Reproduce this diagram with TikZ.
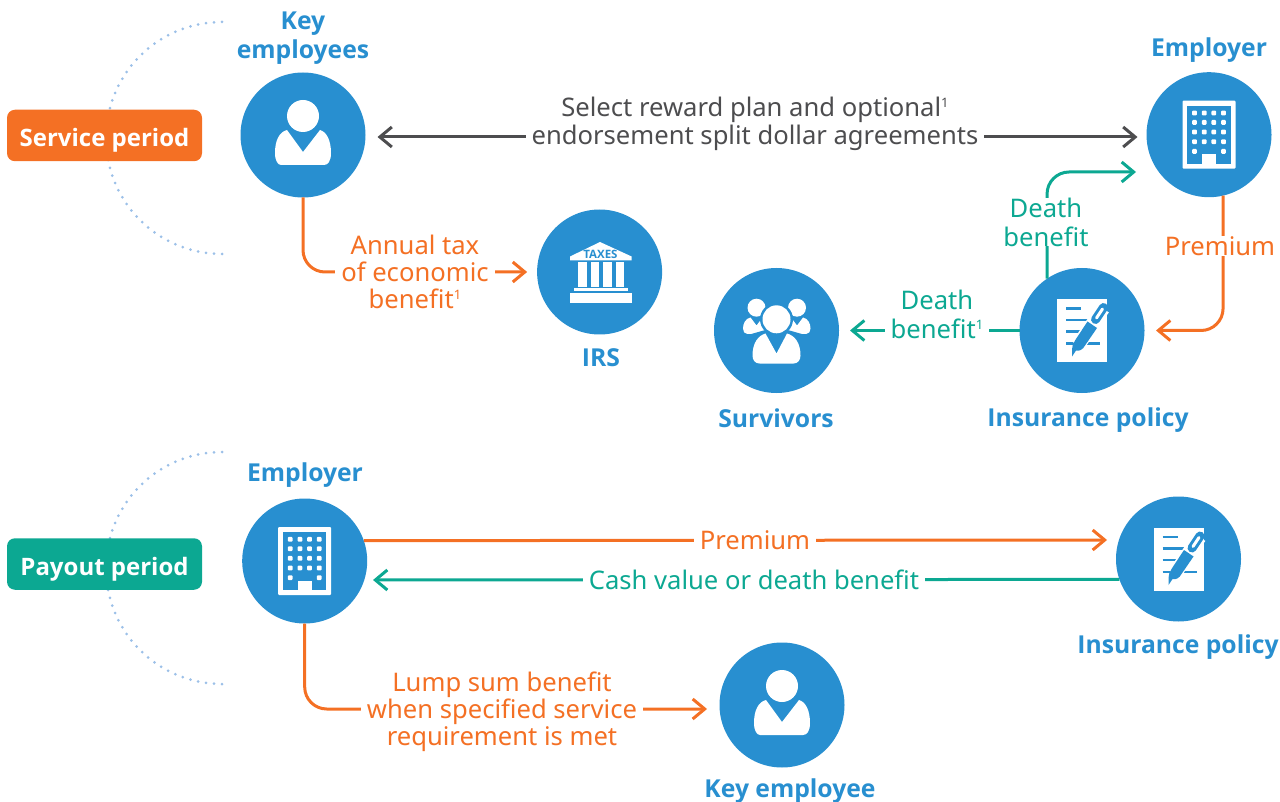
\documentclass[tikz,border=0pt]{standalone}
\usepackage{fontspec}
\setmainfont{Noto Sans}
\newfontfamily\bfam{Open Sans}
\usetikzlibrary{arrows.meta}
\definecolor{cblue}{HTML}{288FD0}
\definecolor{corange}{HTML}{F47024}
\definecolor{cteal}{HTML}{0CA892}
\definecolor{cdark}{HTML}{4D4D4F}
\definecolor{cdot}{HTML}{9CC0E8}
\newcommand{\supone}{\raisebox{9pt}{\fontsize{13}{13}\selectfont 1}}
\newcommand{\tagtext}[1]{\raisebox{-11pt}[0pt][0pt]{#1}}
\tikzset{
  x=1pt,y=-1pt,
  disc/.style={circle,fill=cblue,minimum size=125pt,inner sep=0pt,outer sep=0pt},
  title/.style={text=cblue,font=\bfam\fontsize{24.7}{28.5}\selectfont\bfseries,align=center,inner sep=0pt},
  lab/.style={font=\fontsize{25.6}{27}\selectfont,align=center,fill=white,inner xsep=6pt,inner ysep=0pt,outer sep=0pt},
  tag/.style={rounded corners=8pt,minimum width=195pt,minimum height=51.5pt,inner sep=0pt,text=white,font=\bfam\fontsize{24}{28}\selectfont\bfseries},
  conn/.style={line width=3pt,rounded corners=22pt,-{Straight Barb[length=12pt,width=20pt,line width=3pt]}},
  dots/.style={cdot,line width=3pt,line cap=round,dash pattern=on 0pt off 8pt},
}
\tikzset{
 personicon/.pic={
  \fill[white] (0,-19) circle[radius=16pt];
  \fill[white] (-16,-5) -- (0,17) -- (17,-5) .. controls (24,-3) and (28,6) .. (28,18) .. controls (28,26) and (25,30) .. (21,30) -- (-22,30) .. controls (-25,30) and (-28,26) .. (-28,18) .. controls (-28,6) and (-24,-3) .. (-16,-5) -- cycle;
 },
 buildingicon/.pic={
  \fill[white,rounded corners=1pt] (-26.5,-34) rectangle (26.5,34);
  \fill[cblue] (-21.7,-29) rectangle (21.7,29);
  \fill[white] (-7,19.5) rectangle (7,29);
  \foreach \r in {-21.7,-12.3,-2.7,7}{\foreach \c in {-14.5,-4.8,4.8,14.5}{\fill[white,rounded corners=1pt] (\c-2.4,\r-2.4) rectangle (\c+2.4,\r+2.4);}}
  \foreach \c in {-14.5,14.5}{\fill[white,rounded corners=1pt] (\c-2.4,16.7-2.4) rectangle (\c+2.4,16.7+2.4);}
 },
 policyicon/.pic={
  \fill[white] (-25,-31) rectangle (25,31.5);
  \foreach \yy/\xx in {-22/-1,-10.5/9,1/4,13/18}{\draw[cblue,line width=2.6pt] (-16,\yy) -- (\xx,\yy);}
  \draw[white,line width=14pt] (21,-22) -- (-4,15);
  \draw[cblue,line width=9pt,line cap=round] (21.5,-23) -- (13.5,-11);
  \draw[white,line width=3pt,line cap=round] (20.5,-21.5) -- (14.5,-12.5);
  \fill[cblue] (5.5,-9) -- (15,-2.5) -- (3,15) .. controls (1,19) and (-3,21) .. (-6,20) -- (-10,26) -- (-10,19) .. controls (-10,16) and (-9,13) .. (-7,10) -- cycle;
 },
 taxicon/.pic={
  \fill[white] (0.4,-30) -- (32,-15.5) -- (32,-11.5) -- (-29.6,-11.5) -- (-29.6,-15.5) -- cycle;
  \node[text=cblue,inner sep=0pt,font=\bfam\fontsize{11.5}{11.5}\selectfont\bfseries] at (0.8,-17.8) {TAXES};
  \foreach \c in {-21.3,-8.6,3.7,16}{\fill[white] (\c,-9.7) rectangle (\c+8.4,15.3);}
  \fill[white] (-25.3,16.3) rectangle (28.7,19);
  \fill[white] (-29.6,21) rectangle (32,31);
 },
 groupicon/.pic={
  \fill[white] (-20,-22.8) circle[radius=9pt];
  \fill[white] (20.5,-22.8) circle[radius=9pt];
  \fill[white] (-26,-13) -- (-20,-5) -- (-14,-13) -- (-8,3) -- (-25,3.5) -- (-29,3.5) .. controls (-32,3.5) and (-33.5,1) .. (-33.5,-2) .. controls (-33.5,-7) and (-31,-12) .. (-26,-13) -- cycle;
  \fill[white] (26.5,-13) -- (20.5,-5) -- (14.5,-13) -- (8,3) -- (25,3.5) -- (29.5,3.5) .. controls (32.5,3.5) and (34,1) .. (34,-2) .. controls (34,-7) and (31.5,-12) .. (26.5,-13) -- cycle;
  \fill[cblue] (0,-11.2) circle[radius=16.5pt];
  \fill[cblue] (-13,0) -- (13,0) -- (27,4) -- (27,12) -- (-27,12) -- (-27,4) -- cycle;
  \fill[white] (0,-11.2) circle[radius=14pt];
  \fill[white] (-11,3) -- (0,23) -- (10.5,3) .. controls (18,5) and (24,12) .. (24,25) .. controls (24,30) and (21,33) .. (17,33) -- (-17,33) .. controls (-21,33) and (-24,30) .. (-24,25) .. controls (-24,12) and (-18,5) .. (-11,3) -- cycle;
 },
}
\begin{document}
\begin{tikzpicture}
\useasboundingbox (0,0) rectangle (1280,802);
% dotted arcs
\coordinate (dsa) at (222,22);
\coordinate (dsb) at (222,254);
\coordinate (dpa) at (222,452);
\coordinate (dpb) at (222,684);
\draw[dots] (dsa) arc[start angle=90,end angle=170,radius=116pt];
\draw[dots] (dsb) arc[start angle=-90,end angle=-170,radius=116pt];
\draw[dots] (dpa) arc[start angle=90,end angle=170,radius=116pt];
\draw[dots] (dpb) arc[start angle=-90,end angle=-170,radius=116pt];
% discs
\node[disc] (ke) at (303,135) {};
\node[disc] (empa) at (1209,134.7) {};
\node[disc] (irs) at (599.6,272) {};
\node[disc] (surv) at (776.5,330.5) {};
\node[disc] (pola) at (1082,330.5) {};
\node[disc] (empb) at (304.7,561) {};
\node[disc] (polb) at (1178.5,559) {};
\node[disc] (keb) at (782,705) {};
\pic at (ke) {personicon};
\pic at (keb) {personicon};
\pic at (empa) {buildingicon};
\pic at (empb) {buildingicon};
\pic at (pola) {policyicon};
\pic at (polb) {policyicon};
\pic at (irs) {taxicon};
\pic at (surv) {groupicon};
% tags
\node[tag,fill=corange] (stag) at (104.5,135.5) {\tagtext{Service period}};
\node[tag,fill=cteal] (ptag) at (104.5,564) {\tagtext{Payout period}};
% titles
\node[title] (tke) at (303,38) {Key\\employees};
\node[title] (temp) at (1209,50) {Employer};
\node[title] (tirs) at (601,358) {IRS};
\node[title] (tsur) at (776,418) {Survivors};
\node[title] (tpol) at (1088,420) {Insurance policy};
\node[title] (temb) at (305,475) {Employer};
\node[title] (tpob) at (1178,647) {Insurance policy};
\node[title] (tkeb) at (790,791) {Key employee};
% connector free ends
\coordinate (tipa) at (1136,172);
\coordinate (tipb) at (1156,330.5);
\coordinate (tipc) at (1107,540);
\coordinate (tipd) at (373,580);
\coordinate (tipe) at (707,709);
% connectors
\draw[conn,cdark,{Straight Barb[length=12pt,width=20pt,line width=3pt]}-{Straight Barb[length=12pt,width=20pt,line width=3pt]},shorten <=12pt,shorten >=9pt] ([yshift=-2pt]ke.east) -- ([yshift=-2.3pt]empa.west);
\draw[conn,corange] (ke.south) |- ([xshift=-10pt]irs.west);
\draw[conn,cteal] (pola.124) |- (tipa);
\draw[conn,cteal] (pola.west) -- ([xshift=11pt]surv.east);
\draw[conn,corange] (empa.-77) |- (tipb);
\draw[conn,corange] (empb.19.6) -- (tipc);
\draw[conn,cteal] (polb.-161) -- (tipd);
\draw[conn,corange] (empb.south) |- (tipe);
% labels
\node[lab,text=cdark] (la) at (755,123.5) {Select reward plan and optional\supone\\[1pt]endorsement split dollar agreements};
\node[lab,text=corange] (lb) at (415,271.5) {Annual tax\\of economic\\benefit\supone};
\node[lab,text=cteal] (lc) at (1046,222) {Death\\[2pt]benefit};
\node[lab,text=cteal] (ld) at (937,314) {Death\\[2pt]benefit\supone};
\node[lab,text=corange] (le) at (1220,246) {Premium};
\node[lab,text=corange] (lf) at (755,540) {Premium};
\node[lab,text=cteal] (lg) at (754,580) {Cash value or death benefit};
\node[lab,text=corange] (lh) at (502,711.5) {Lump sum benefit\\when specified service\\requirement is met};
\end{tikzpicture}
\end{document}
